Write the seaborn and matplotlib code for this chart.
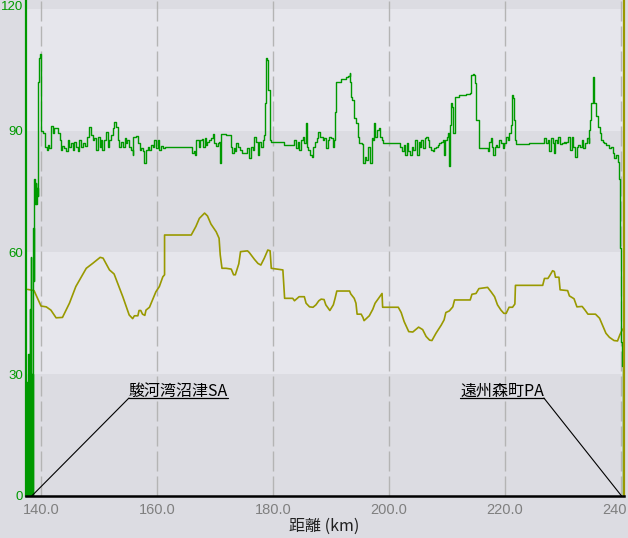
import matplotlib
matplotlib.use("Agg")
import matplotlib.pyplot as plt
import matplotlib.transforms as mtrans
import pandas as pd
import seaborn as sns

# ---------------- data ----------------
speed_km = [137.45, 137.6, 137.65, 137.8, 137.85, 138.05, 138.15, 138.25, 138.35, 138.5, 138.6,
            138.7, 138.78, 138.85, 139.0, 139.1, 139.2, 139.3, 139.4, 139.45, 139.5, 139.6, 139.7,
            139.8, 139.95, 140.0, 140.3,
            140.6, 140.75, 141.0, 141.15, 141.4, 141.7, 142.0, 142.3, 142.7, 142.9, 143.2, 143.45,
            143.7, 144.0, 144.3, 144.6, 144.9, 145.2, 145.5, 145.75, 146.0, 146.3, 146.6, 146.9,
            147.2, 147.6, 148.0, 148.3, 148.6, 148.9, 149.2, 149.5, 149.8, 150.1, 150.35, 150.6,
            150.9, 151.2, 151.5, 151.8, 152.1, 152.4, 152.6, 152.9, 153.2, 153.5, 153.8, 154.1,
            154.4, 154.7, 154.9, 155.2, 155.5, 155.8, 155.9, 156.4, 156.7, 157.0, 157.2, 157.5,
            157.8, 158.1, 158.4, 158.7, 158.96, 159.25, 159.5, 159.8, 160.1, 160.4, 160.7, 161.0,
            161.3, 165.9, 166.0, 166.3, 166.6, 166.8, 167.2, 167.4, 167.7, 167.9, 168.2, 168.5,
            168.7, 169.0, 169.3, 169.6, 169.9, 170.2, 170.5, 170.75, 170.9, 171.0, 171.6, 171.9,
            172.6, 172.8, 172.9, 173.2, 173.45, 173.7, 174.0, 174.3, 174.6, 175.3, 175.6, 175.9,
            176.2, 176.5, 176.8, 177.1, 177.4, 177.6, 177.9, 178.2, 178.5, 178.7, 178.85, 179.0,
            179.2, 179.4, 179.5, 179.7, 181.8, 181.95, 183.4, 183.7, 184.0, 184.3, 184.5, 184.8,
            185.1, 185.4, 185.7, 185.8, 186.1, 186.4, 186.7, 186.96, 187.2, 187.5, 187.7, 188.1,
            188.6, 188.85, 189.1, 189.4, 189.7, 190.0, 190.3, 190.6, 190.75, 190.9, 191.7, 192.6,
            193.0, 193.2, 193.3, 193.45, 193.7, 194.0, 194.3, 194.6, 194.9, 195.3, 195.6, 195.9,
            196.1, 196.4, 196.7, 197.0, 197.2, 197.4, 197.6, 197.9, 198.2, 198.5, 198.8, 198.9,
            201.6, 201.9, 202.2, 202.5, 202.8, 203.05, 203.3, 203.6, 203.9, 204.2, 204.5, 204.8,
            205.1, 205.3, 205.6, 205.9, 206.2, 206.4, 206.7, 206.95, 207.2, 207.5, 207.8, 208.1,
            208.4, 208.7, 208.97, 209.25, 209.5, 209.7, 209.95, 210.2, 210.4, 210.5, 210.7, 210.9,
            211.0, 211.3, 211.35, 212.1, 213.3, 213.9, 214.1, 214.4, 214.7, 214.9, 215.0, 215.4,
            215.5, 216.9, 217.0, 217.3, 217.5, 217.7, 217.9, 218.2, 218.4, 218.7, 219.0, 219.3,
            219.6, 219.9, 220.2, 220.5, 220.75, 221.0, 221.2, 221.4, 221.6, 221.8, 221.9, 224.2,
            226.5, 226.8, 227.1, 227.4, 227.6, 227.9, 228.2, 228.4, 228.6, 228.9, 229.2, 229.5,
            229.8, 230.1, 230.3, 230.6, 230.9, 231.2, 231.5, 231.8, 232.1, 232.4, 232.6, 232.9,
            233.2, 233.5, 233.8, 234.1, 234.4, 234.5, 234.7, 234.9, 235.1, 235.3, 235.4, 235.7,
            236.0, 236.3, 236.6, 236.85, 237.1, 237.4, 237.7, 238.0, 238.3, 238.6, 238.85, 239.1,
            239.4, 239.6, 239.65, 239.85, 240.05, 240.2, 240.3]
speed_val = [0, 28, 0, 35, 0, 46, 0, 59, 0, 30, 0,
             66, 53, 78, 72, 77, 72, 76, 74, 82, 102, 103, 108,
             109, 109, 90, 89.5,
             88.9, 86.1, 85.3, 86.5, 85.7, 91.2, 89.4, 90.6, 90.6, 89.4, 87.7, 85.3,
             86.2, 85.7, 84.9, 87.7, 85.9, 86.9, 85.3, 87.3, 86.1, 84.9, 87.7, 86.1,
             86.9, 86.2, 88.5, 90.9, 89.0, 87.7, 88.1, 85.3, 88.5, 86.1, 87.7, 85.3,
             87.7, 89.8, 86.1, 87.7, 89.0, 90.6, 92.2, 91.0, 87.7, 86.1, 87.3, 86.1,
             88.1, 86.9, 87.7, 86.1, 85.3, 84.0, 88.5, 88.7, 86.9, 85.3, 85.7, 84.9,
             82.0, 85.3, 86.1, 85.3, 86.5, 86.1, 87.7, 85.7, 87.7, 85.3, 86.2, 85.7,
             85.9, 85.9, 84.4, 84.9, 84.0, 87.7, 86.1, 87.7, 87.9, 86.1, 88.1, 86.5,
             87.3, 87.7, 88.1, 89.2, 86.9, 86.2, 86.9, 87.3, 82.0, 89.2, 89.2, 88.9,
             88.9, 86.1, 84.4, 85.7, 84.9, 86.9, 86.1, 85.3, 84.6, 84.4, 85.7, 83.2,
             86.1, 85.3, 88.5, 87.3, 84.0, 87.3, 86.1, 87.7, 88.9, 96.8, 107.9, 107.3,
             100.1, 92.7, 87.7, 87.3, 87.3, 86.5, 86.5, 87.7, 85.7, 87.3, 85.3, 87.7,
             88.5, 86.9, 91.8, 86.1, 85.3, 84.0, 83.6, 86.1, 87.3, 88.1, 89.8, 88.5,
             87.7, 88.1, 85.7, 87.7, 88.5, 88.1, 86.1, 87.7, 94.7, 102.1, 102.7, 103.2,
             103.5, 104.2, 102.1, 98.4, 97.6, 93.1, 91.8, 88.5, 86.9, 86.7, 82.0, 83.6,
             82.8, 86.1, 82.0, 88.1, 87.7, 91.8, 88.5, 90.2, 90.6, 88.5, 87.7, 86.9,
             86.9, 86.1, 84.9, 86.5, 84.0, 86.9, 84.9, 84.0, 86.1, 85.3, 87.7, 84.0,
             87.3, 86.1, 87.7, 85.7, 88.1, 88.5, 87.7, 86.1, 85.3, 84.9, 85.7, 86.1,
             86.5, 86.9, 87.3, 87.7, 84.0, 87.7, 88.5, 89.4, 81.2, 91.4, 96.8, 95.9,
             89.4, 89.4, 98.4, 98.8, 99.1, 99.4, 103.7, 104.0, 103.7, 101.7, 92.7, 92.7,
             85.7, 85.7, 84.9, 87.3, 88.1, 86.1, 84.0, 86.1, 86.5, 86.1, 87.7, 86.9,
             85.7, 86.9, 88.5, 87.7, 89.4, 91.4, 98.8, 98.0, 92.7, 87.7, 86.7, 86.9,
             86.9, 88.1, 86.9, 87.7, 84.9, 88.1, 86.9, 84.4, 87.7, 86.9, 88.5, 86.7,
             86.9, 87.3, 86.9, 87.3, 88.5, 85.3, 88.5, 86.1, 83.6, 86.1, 86.5, 86.1,
             87.7, 85.7, 86.9, 88.1, 86.9, 90.2, 92.7, 96.8, 103.3, 102.5, 96.8, 93.5,
             91.0, 89.4, 87.7, 87.3, 86.9, 86.5, 86.5, 85.7, 86.1, 84.4, 83.2, 84.0,
             82.4, 81.2, 78.0, 61.0, 38.0, 32.0, 0]

elev_km = [137.7, 138.8, 140.0, 140.9, 141.7, 142.6, 143.7, 144.9, 146.0, 147.8, 148.9, 150.2,
           150.7, 151.8, 152.6, 154.1, 155.2, 155.8, 156.1, 156.7, 156.9, 157.2, 157.5, 157.9,
           158.1, 158.7, 159.8, 160.4, 161.0, 161.3, 161.3, 165.9, 166.7, 167.3, 168.2, 168.7,
           169.3, 170.2, 170.7, 170.9, 171.2, 171.9, 172.8, 173.2, 173.5, 174.1, 174.4, 175.6,
           175.9, 176.8, 177.4, 177.9, 178.5, 179.1, 179.5, 179.7, 181.7, 182.0, 183.4, 183.7,
           184.1, 184.5, 185.4, 185.7, 186.3, 186.9, 187.4, 187.9, 188.3, 188.8, 189.1, 189.8,
           190.4, 190.7, 191.0, 193.2, 193.4, 194.0, 194.3, 194.5, 195.2, 195.5, 195.7, 196.6,
           197.2, 197.6, 198.2, 198.8, 198.9, 201.6, 202.1, 202.6, 203.4, 204.1, 205.1, 205.8,
           206.4, 207.0, 207.4, 208.1, 209.0, 209.5, 209.8, 210.4, 211.0, 211.3, 214.0, 214.3,
           215.0, 215.5, 217.0, 217.6, 218.2, 218.7, 219.3, 219.8, 220.2, 220.7, 221.3, 221.7,
           221.8, 226.5, 226.8, 227.4, 227.8, 228.2, 228.5, 228.7, 229.3, 229.5, 230.8, 231.1,
           231.9, 232.4, 233.3, 233.8, 234.3, 235.6, 236.3, 236.8, 237.4, 238.0, 238.8, 239.4,
           239.8, 240.2, 240.4]
elev_val = [50.9, 50.6, 46.8, 46.6, 45.8, 43.9, 44.0, 47.5, 51.6, 56.1, 57.3, 58.8,
            58.6, 55.7, 54.7, 49.1, 44.6, 43.7, 44.4, 44.4, 45.7, 45.7, 44.8, 44.5,
            45.8, 46.5, 50.3, 51.6, 54.0, 54.5, 64.3, 64.3, 66.4, 68.4, 69.7, 69.0,
            67.0, 65.1, 63.5, 59.4, 56.1, 56.1, 55.9, 54.5, 54.5, 57.2, 60.2, 60.4,
            60.0, 58.3, 57.3, 56.9, 58.6, 60.6, 60.4, 56.1, 55.7, 48.7, 48.7, 48.1,
            48.6, 49.1, 49.1, 47.5, 46.6, 46.5, 47.1, 48.1, 48.5, 48.4, 47.1, 45.7,
            47.1, 48.7, 50.5, 50.5, 49.8, 48.7, 47.5, 44.8, 44.8, 44.0, 43.2, 44.4,
            46.0, 47.5, 48.7, 49.9, 46.5, 46.5, 45.2, 43.0, 40.5, 40.4, 41.6, 41.0,
            39.3, 38.4, 38.3, 40.1, 42.1, 43.4, 45.2, 45.6, 46.6, 48.3, 48.3, 49.7,
            49.9, 51.1, 51.4, 50.3, 49.1, 47.1, 45.8, 45.0, 45.0, 46.5, 46.5, 47.3,
            51.9, 51.9, 53.6, 53.6, 54.5, 55.5, 55.3, 53.9, 53.9, 50.8, 50.6, 49.3,
            48.6, 46.6, 46.7, 45.8, 44.8, 44.8, 43.8, 42.1, 40.1, 39.1, 38.3, 38.2,
            39.7, 40.9, 41.2]

x_ticks = [140, 160, 180, 200, 220, 240]
x_tick_labels = ["140.0", "160.0", "180.0", "200.0", "220.0", "240"]
y_ticks = [0, 30, 60, 90, 120]
y_tick_labels = ["0", "30", "60", "90", "120"]
x_label = "距離 (km)"
poi_names = ["駿河湾沼津SA", "遠州森町PA"]
poi_km = [138.4, 240.1]

# ---------------- layout / style ----------------
W, H = 628, 538
dark_bg = "#dcdce2"
light_bg = "#e6e6ec"
green = "#009900"
olive = "#999900"
gray_txt = "#7f7f7f"
label_anchor = [(155.17, "left"), (226.7, "right")]
label_level = 24.15

sns.set_style("white")
plt.rcParams["font.family"] = ["Liberation Sans", "Noto Sans CJK JP", "DejaVu Sans"]
plt.rcParams["lines.scale_dashes"] = False

fig = plt.figure(figsize=(W / 100, H / 100), dpi=100, facecolor=dark_bg)
ax = fig.add_axes([26 / W, 42 / H, (623.5 - 26) / W, 496 / H])
ax.set_facecolor(dark_bg)
ax.set_xlim(137.41, 240.43)
ax.set_ylim(0, 122.2)

for lo in (30, 90):
    ax.axhspan(lo, lo + 30, color=light_bg, lw=0, zorder=0)
for xt in x_ticks:
    ax.axvline(xt, color="#b4b4b4", lw=1.0, ls=(0, (14.4, 3.6)), zorder=1)

speed_df = pd.DataFrame({"km": speed_km, "val": speed_val})
elev_df = pd.DataFrame({"km": elev_km, "val": elev_val})
sns.lineplot(data=elev_df, x="km", y="val", ax=ax, color=olive, lw=1.2,
             estimator=None, sort=False, zorder=3)
sns.lineplot(data=speed_df, x="km", y="val", ax=ax, color=green, lw=1.0,
             estimator=None, sort=False, drawstyle="steps-post", zorder=4)

# spines
ax.spines["top"].set_visible(False)
ax.spines["left"].set_color(green)
ax.spines["left"].set_linewidth(1.6)
ax.spines["right"].set_color(olive)
ax.spines["right"].set_linewidth(1.6)
ax.spines["bottom"].set_color("black")
ax.spines["bottom"].set_linewidth(1.8)
for sp in ax.spines.values():
    sp.set_zorder(6)

ax.set_xticks(x_ticks)
ax.set_xticklabels(x_tick_labels, color=gray_txt, fontsize=10.5)
ax.set_yticks(y_ticks)
ax.set_yticklabels(y_tick_labels, color=green, fontsize=9.5)
ax.tick_params(axis="both", length=0)
ax.tick_params(axis="x", pad=5)
ax.tick_params(axis="y", pad=2)
for lab in ax.get_yticklabels():
    lab.set_verticalalignment("center_baseline")
top_lab = ax.get_yticklabels()[-1]
top_lab.set_verticalalignment("top")
top_lab.set_transform(top_lab.get_transform() + mtrans.ScaledTranslation(0, 8 / 100, fig.dpi_scale_trans))
last = ax.get_xticklabels()[-1]
last.set_transform(last.get_transform() + mtrans.ScaledTranslation(-7 / 100, 0, fig.dpi_scale_trans))

ax.set_xlabel("")
ax.set_ylabel("")
fig.text(0.517, 3 / H, x_label, ha="center", va="bottom", fontsize=11.5, color="#202020",
         family=["Noto Sans CJK JP", "DejaVu Sans"])

# point-of-interest annotations
fig.canvas.draw()
for name, km, (lx, ha) in zip(poi_names, poi_km, label_anchor):
    t = ax.text(lx, label_level, name, ha=ha, va="baseline", fontsize=11.5, color="black",
                family=["Noto Sans CJK JP", "DejaVu Sans"], zorder=7,
                transform=ax.transData + mtrans.ScaledTranslation(0, 2 / 100, fig.dpi_scale_trans))
    fig.canvas.draw()
    bb = t.get_window_extent().transformed(ax.transData.inverted())
    ax.plot([bb.x0, bb.x1], [label_level, label_level], color="black", lw=0.9, zorder=7)
    ax.plot([lx, km], [label_level, 0], color="black", lw=0.8, zorder=7)

fig.savefig("out.png", dpi=100, facecolor=dark_bg)
